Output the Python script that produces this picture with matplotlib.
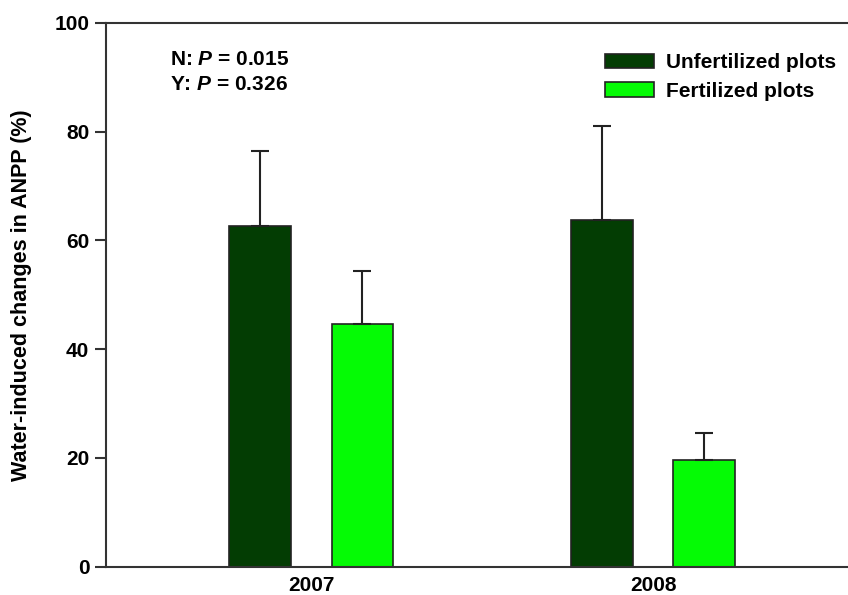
import numpy as np
import matplotlib
matplotlib.use('Agg')
import matplotlib.pyplot as plt

plt.rcParams['font.family'] = ['Liberation Sans', 'DejaVu Sans']
plt.rcParams['font.weight'] = 'bold'
plt.rcParams['mathtext.fontset'] = 'custom'
plt.rcParams['mathtext.bfit'] = 'Liberation Sans:bold:italic'
plt.rcParams['mathtext.rm'] = 'Liberation Sans:bold'

# data
years = ['2007', '2008']
unfert = [62.6, 63.7]
unfert_se = [13.9, 17.3]
fert = [44.7, 19.7]
fert_se = [9.6, 4.9]

dark = '#033d03'
light = '#05fb05'
edge = '#222222'
fs = 15

fig = plt.figure(figsize=(8.48, 5.95), dpi=100)
ax = fig.add_axes([0.125, 0.0476, 0.875, 0.914])

x = np.arange(len(years))
w = 0.181
off = 0.15
err_kw = dict(ecolor='#222222', elinewidth=1.5, capsize=6.2, capthick=1.5)
ax.bar(x - off, unfert, w, color=dark, edgecolor=edge, linewidth=1.2,
       yerr=[np.zeros(2), unfert_se], error_kw=err_kw, label='Unfertilized plots')
ax.bar(x + off, fert, w, color=light, edgecolor=edge, linewidth=1.2,
       yerr=[np.zeros(2), fert_se], error_kw=err_kw, label='Fertilized plots')

ax.set_xlim(-0.6, 1.57)
ax.set_ylim(0, 100)
ax.set_xticks(x)
ax.set_xticklabels(years)
ax.set_yticks(range(0, 101, 20))
ax.tick_params(axis='x', length=0, pad=7, labelsize=fs)
ax.tick_params(axis='y', length=8, width=1.5, color='#333333', labelsize=fs, pad=4)
for s in ['left', 'bottom', 'top']:
    ax.spines[s].set_linewidth(1.5)
    ax.spines[s].set_color('#333333')
ax.spines['right'].set_visible(False)

ax.set_ylabel('Water-induced changes in ANPP (%)', fontsize=15.5, fontweight='bold', labelpad=16)

ax.text(0.086, 0.932, r'N: $\mathbfit{P}$ = 0.015', transform=ax.transAxes,
        fontsize=fs, fontweight='bold', va='center')
ax.text(0.086, 0.886, r'Y: $\mathbfit{P}$ = 0.326', transform=ax.transAxes,
        fontsize=fs, fontweight='bold', va='center')

leg = ax.legend(loc='upper left', bbox_to_anchor=(0.6725, 0.944), frameon=False,
                fontsize=fs, handlelength=2.35, handleheight=0.72,
                handletextpad=0.58, labelspacing=0.45, borderpad=0,
                borderaxespad=0)

fig.savefig('out.png', dpi=100)
